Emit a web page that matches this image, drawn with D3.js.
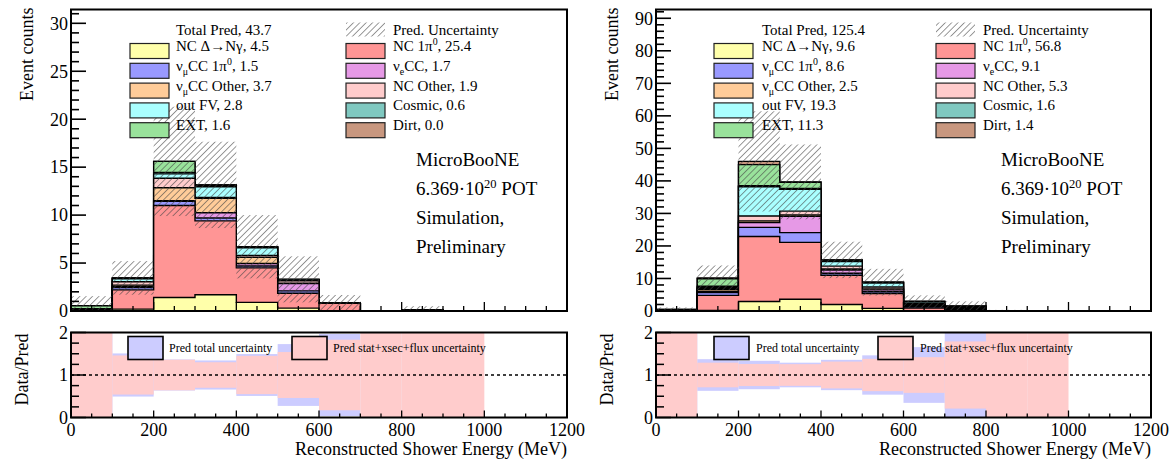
<!DOCTYPE html>
<html>
<head>
<meta charset="utf-8">
<script src="https://cdn.jsdelivr.net/npm/d3@7"></script>
<style>
  body { margin: 0; background: #fff; }
  svg { display: block; }
  svg text { font-family: "Liberation Serif", "Times New Roman", Times, serif; fill: #000; }
</style>
</head>
<body>
<svg id="chart" width="1175" height="460" font-family="Liberation Serif, serif"></svg>
<script>
// ---- binning (MeV) ----
const binEdges = d3.range(0, 1201, 100);

// ---- left sample: predicted events per 100 MeV bin ----
const leftNCDelta   = [0, 0.2, 1.4, 1.7, 0.9, 0.3, 0, 0, 0, 0, 0, 0];
const leftNC1Pi0    = [0.05, 2.0, 9.6, 7.7, 3.6, 1.55, 0.8, 0, 0.1, 0, 0, 0];
const leftNumuCC1Pi0 = [0.05, 0.25, 0.45, 0.3, 0.2, 0.25, 0, 0, 0, 0, 0, 0];
const leftNueCC     = [0, 0.1, 0.05, 0.55, 0.25, 0.75, 0, 0, 0, 0, 0, 0];
const leftNumuOther = [0, 0.15, 1.35, 1.5, 0.65, 0.05, 0, 0, 0, 0, 0, 0];
const leftNCOther   = [0, 0.35, 1.0, 0.1, 0.2, 0.25, 0, 0, 0, 0, 0, 0];
const leftOutFV     = [0.05, 0.3, 0.45, 1.1, 0.8, 0.1, 0, 0, 0, 0, 0, 0];
const leftCosmic    = [0.1, 0.05, 0.15, 0.15, 0.05, 0.05, 0.05, 0, 0, 0, 0, 0];
const leftEXT       = [0.3, 0.05, 1.15, 0.05, 0.05, 0, 0, 0, 0, 0, 0, 0];
const leftDirt      = [0, 0, 0, 0, 0, 0, 0, 0, 0, 0, 0, 0];
const leftTotalErr  = [1.0, 1.75, 5.7, 4.5, 3.3, 2.4, 0.82, 0, 0.4, 0, 0, 0];
// fractional stat+xsec+flux uncertainty (null = no band)
const leftSysFrac   = [1.6, 0.46, 0.36, 0.30, 0.45, 0.54, 0.83, 1.6, 1.6, 1.6, null, null];

// ---- right sample ----
const rightNCDelta   = [0, 0.2, 2.9, 3.6, 2.0, 0.8, 0.1, 0, 0, 0, 0, 0];
const rightNC1Pi0    = [0.1, 4.6, 20.0, 17.5, 9.0, 4.6, 0.8, 0.11, 0.05, 0, 0, 0];
const rightNumuCC1Pi0 = [0, 0.9, 2.8, 3.0, 0.6, 0.5, 0.4, 0.4, 0, 0, 0, 0];
const rightNueCC     = [0, 0.3, 1.5, 5.0, 1.0, 0.6, 0.4, 0.3, 0, 0, 0, 0];
const rightNumuOther = [0, 0.6, 0.5, 0.4, 0.3, 0.3, 0.2, 0.2, 0, 0, 0, 0];
const rightNCOther   = [0, 0.3, 1.5, 1.2, 0.9, 0.6, 0.5, 0.3, 0, 0, 0, 0];
const rightOutFV     = [0.1, 0.4, 9.0, 6.7, 1.4, 1.2, 0.4, 0.06, 0, 0, 0, 0];
const rightCosmic    = [0.1, 0.3, 0.3, 0.3, 0.2, 0.2, 0.1, 0.1, 0, 0, 0, 0];
const rightEXT       = [0.2, 2.3, 6.5, 1.9, 0.3, 0.06, 0, 0, 0, 0, 0, 0];
const rightDirt      = [0, 0.3, 1.0, 0.1, 0, 0, 0, 0, 0, 0, 0, 0];
const rightTotalErr  = [0.6, 3.8, 15.4, 11.5, 5.6, 4.1, 1.9, 1.5, 0.3, 0, 0, 0];
const rightSysFrac   = [1.6, 0.29, 0.26, 0.255, 0.315, 0.38, 0.42, 0.79, 1.6, 1.6, null, null];

// ---- axis ticks ----
const xTickLabels = [0, 200, 400, 600, 800, 1000, 1200];
const ratioTickLabels = [0, 1, 2];

// ---- categories in stacking order (bottom first) ----
const categoryKeys = ["ncDelta", "nc1pi0", "numu1pi0", "nuecc", "numuOther", "ncOther", "outFV", "cosmic", "ext", "dirt"];
const categoryColors = ["#ffffaa", "#ff9595", "#9999ff", "#e699e6", "#ffcc99", "#ffcccc", "#aaffff", "#7fc8c0", "#99e29b", "#c8977f"];
const categoryLabels = [
  [["NC \u0394\u2192N\u03b3"]],
  [["NC 1\u03c0"], ["0", "sup"]],
  [["\u03bd"], ["\u03bc", "sub"], ["CC 1\u03c0"], ["0", "sup"]],
  [["\u03bd"], ["e", "sub"], ["CC"]],
  [["\u03bd"], ["\u03bc", "sub"], ["CC Other"]],
  [["NC Other"]],
  [["out FV"]],
  [["Cosmic"]],
  [["EXT"]],
  [["Dirt"]]
];

const panels = [
  {
    series: [leftNCDelta, leftNC1Pi0, leftNumuCC1Pi0, leftNueCC, leftNumuOther, leftNCOther, leftOutFV, leftCosmic, leftEXT, leftDirt],
    err: leftTotalErr, sys: leftSysFrac,
    x0: 71, x1: 567, yMax: 31.44, yMajor: 5, yMinor: 1,
    leg: { box1: 59, text1: 105, box2: 275, text2: 322 },
    rleg: { b1: 57, t1: 98, b2: 221, t2: 262 },
    labelX: 416
  },
  {
    series: [rightNCDelta, rightNC1Pi0, rightNumuCC1Pi0, rightNueCC, rightNumuOther, rightNCOther, rightOutFV, rightCosmic, rightEXT, rightDirt],
    err: rightTotalErr, sys: rightSysFrac,
    x0: 656, x1: 1151, yMax: 92.7, yMajor: 10, yMinor: 2,
    leg: { box1: 58, text1: 106, box2: 280, text2: 327 },
    rleg: { b1: 58, t1: 100, b2: 222, t2: 264 },
    labelX: 1001
  }
];

const TOP_Y0 = 311, TOP_Y1 = 9.5;
const RAT_Y0 = 417.5, RAT_Y1 = 332.5;

const svg = d3.select("#chart");
const defs = svg.append("defs");
defs.append("pattern")
  .attr("id", "hatch")
  .attr("patternUnits", "userSpaceOnUse")
  .attr("width", 4.5).attr("height", 4.5)
  .attr("patternTransform", "rotate(45)")
  .append("line")
  .attr("x1", 0).attr("y1", 0).attr("x2", 0).attr("y2", 4.5)
  .attr("stroke", "#444").attr("stroke-width", 1.1);

function richText(sel, parts, size) {
  let shift = 0;
  parts.forEach(([t, mode]) => {
    const target = mode === "sub" ? size * 0.28 : mode === "sup" ? -size * 0.38 : 0;
    sel.append("tspan")
      .attr("dy", target - shift)
      .attr("font-size", mode ? size * 0.66 : size)
      .text(t);
    shift = target;
  });
  if (shift !== 0) sel.append("tspan").attr("dy", -shift).text("");
}

panels.forEach((p, pi) => {
  const x = d3.scaleLinear().domain([0, 1200]).range([p.x0, p.x1]);
  const y = d3.scaleLinear().domain([0, p.yMax]).range([TOP_Y0, TOP_Y1]);
  const yr = d3.scaleLinear().domain([0, 2]).range([RAT_Y0, RAT_Y1]);
  const nb = binEdges.length - 1;

  // clip paths
  defs.append("clipPath").attr("id", "clipTop" + pi)
    .append("rect").attr("x", p.x0).attr("y", TOP_Y1).attr("width", p.x1 - p.x0).attr("height", TOP_Y0 - TOP_Y1);
  defs.append("clipPath").attr("id", "clipRat" + pi)
    .append("rect").attr("x", p.x0).attr("y", RAT_Y1).attr("width", p.x1 - p.x0).attr("height", RAT_Y0 - RAT_Y1);

  // cumulative stacks
  const cum = [];
  let run = new Array(nb).fill(0);
  p.series.forEach(s => {
    run = run.map((v, i) => v + s[i]);
    cum.push(run.slice());
  });
  const total = cum[cum.length - 1];

  const top = svg.append("g").attr("clip-path", `url(#clipTop${pi})`);
  const stepLine = d3.line().x(d => d[0]).y(d => d[1]);
  function stepPoints(values) {
    const pts = [[x(binEdges[0]), y(0)]];
    values.forEach((v, i) => {
      pts.push([x(binEdges[i]), y(v)]);
      pts.push([x(binEdges[i + 1]), y(v)]);
    });
    pts.push([x(binEdges[nb]), y(0)]);
    return pts;
  }
  // draw from the top of the stack downwards, each layer filled down to zero
  for (let k = cum.length - 1; k >= 0; k--) {
    top.append("path")
      .attr("d", stepLine(stepPoints(cum[k])) + "Z")
      .attr("fill", categoryColors[k])
      .attr("stroke", "#000")
      .attr("stroke-width", 1.4)
      .attr("stroke-linejoin", "miter");
  }

  // prediction uncertainty band
  top.selectAll(".unc").data(d3.range(nb).filter(i => p.err[i] > 0)).enter()
    .append("rect")
    .attr("x", i => x(binEdges[i]))
    .attr("width", i => x(binEdges[i + 1]) - x(binEdges[i]))
    .attr("y", i => y(total[i] + p.err[i]))
    .attr("height", i => y(Math.max(0, total[i] - p.err[i])) - y(total[i] + p.err[i]))
    .attr("fill", "url(#hatch)");

  // ---- top frame and axes ----
  const ax = svg.append("g");
  d3.range(0, p.yMax + 1e-9, p.yMinor).forEach(v => {
    const major = Math.abs(v / p.yMajor - Math.round(v / p.yMajor)) < 1e-6;
    ax.append("line").attr("x1", p.x0).attr("x2", p.x0 + (major ? 15 : 8))
      .attr("y1", y(v)).attr("y2", y(v)).attr("stroke", "#000").attr("stroke-width", 1.6);
    if (major) {
      ax.append("text").attr("x", p.x0 - 3).attr("y", y(v)).attr("dy", "0.35em")
        .attr("text-anchor", "end").attr("font-size", 18).text(v);
    }
  });
  d3.range(0, 1201, 50).forEach(v => {
    const major = v % 200 === 0;
    ax.append("line").attr("x1", x(v)).attr("x2", x(v))
      .attr("y1", TOP_Y0).attr("y2", TOP_Y0 - (major ? 9 : 5)).attr("stroke", "#000").attr("stroke-width", 1.3);
  });
  ax.append("rect").attr("x", p.x0).attr("y", TOP_Y1).attr("width", p.x1 - p.x0).attr("height", TOP_Y0 - TOP_Y1)
    .attr("fill", "none").attr("stroke", "#000").attr("stroke-width", 2);

  ax.append("text")
    .attr("transform", `translate(${p.x0 - 38},${TOP_Y1 - 2}) rotate(-90)`)
    .attr("text-anchor", "end").attr("font-size", 18).text("Event counts");

  // ---- legend ----
  const lg = svg.append("g");
  const rowY = i => 51 + 19.8 * i;
  const totalSum = d3.sum(total);
  lg.append("text").attr("x", p.x0 + p.leg.text1).attr("y", 29.5).attr("dy", "0.35em")
    .attr("font-size", 15).text("Total Pred, " + totalSum.toFixed(1));
  lg.append("rect").attr("x", p.x0 + p.leg.box2).attr("y", 22.5).attr("width", 39).attr("height", 14)
    .attr("fill", "url(#hatch)");
  lg.append("text").attr("x", p.x0 + p.leg.text2).attr("y", 29.5).attr("dy", "0.35em")
    .attr("font-size", 15).text("Pred. Uncertainty");
  categoryKeys.forEach((key, k) => {
    const col = k % 2, row = Math.floor(k / 2);
    const bx = p.x0 + (col === 0 ? p.leg.box1 : p.leg.box2);
    const tx = p.x0 + (col === 0 ? p.leg.text1 : p.leg.text2);
    lg.append("rect").attr("x", bx).attr("y", rowY(row) - 7.5).attr("width", 39).attr("height", 15)
      .attr("fill", categoryColors[k]).attr("stroke", "#222").attr("stroke-width", 1.2);
    const t = lg.append("text").attr("x", tx).attr("y", rowY(row)).attr("dy", "0.35em");
    richText(t, categoryLabels[k].concat([[", " + d3.sum(p.series[k]).toFixed(1)]]), 15);
  });

  // ---- experiment label ----
  const lab = svg.append("g");
  lab.append("text").attr("x", p.labelX).attr("y", 166).attr("font-size", 19).text("MicroBooNE");
  const pot = lab.append("text").attr("x", p.labelX).attr("y", 195);
  richText(pot, [["6.369\u00b710"], ["20", "sup"], [" POT"]], 19);
  lab.append("text").attr("x", p.labelX).attr("y", 224).attr("font-size", 19).text("Simulation,");
  lab.append("text").attr("x", p.labelX).attr("y", 253).attr("font-size", 19).text("Preliminary");

  // ---- ratio panel ----
  const rat = svg.append("g").attr("clip-path", `url(#clipRat${pi})`);
  rat.selectAll(".tot").data(d3.range(nb).filter(i => total[i] > 0 && p.err[i] > 0)).enter()
    .append("rect")
    .attr("x", i => x(binEdges[i]))
    .attr("width", i => x(binEdges[i + 1]) - x(binEdges[i]))
    .attr("y", i => yr(Math.min(2.2, 1 + p.err[i] / total[i])))
    .attr("height", i => yr(Math.max(-0.2, 1 - p.err[i] / total[i])) - yr(Math.min(2.2, 1 + p.err[i] / total[i])))
    .attr("fill", "#ccccff");
  rat.selectAll(".sys").data(d3.range(nb).filter(i => p.sys[i] !== null)).enter()
    .append("rect")
    .attr("x", i => x(binEdges[i]))
    .attr("width", i => x(binEdges[i + 1]) - x(binEdges[i]))
    .attr("y", i => yr(Math.min(2.2, 1 + p.sys[i])))
    .attr("height", i => yr(Math.max(-0.2, 1 - p.sys[i])) - yr(Math.min(2.2, 1 + p.sys[i])))
    .attr("fill", "#ffcccc");
  rat.append("line").attr("x1", x(0)).attr("x2", x(1200)).attr("y1", yr(1)).attr("y2", yr(1))
    .attr("stroke", "#000").attr("stroke-width", 1.4).attr("stroke-dasharray", "3,3");

  const rax = svg.append("g");
  d3.range(0, 2.0001, 0.25).forEach(v => {
    const major = Math.abs(v - Math.round(v)) < 1e-6;
    rax.append("line").attr("x1", p.x0).attr("x2", p.x0 + (major ? 15 : 8))
      .attr("y1", yr(v)).attr("y2", yr(v)).attr("stroke", "#000").attr("stroke-width", 1.5);
  });
  ratioTickLabels.forEach(v => {
    rax.append("text").attr("x", p.x0 - 3).attr("y", yr(v)).attr("dy", "0.35em")
      .attr("text-anchor", "end").attr("font-size", 18).text(v);
  });
  d3.range(0, 1201, 50).forEach(v => {
    const major = v % 200 === 0;
    rax.append("line").attr("x1", x(v)).attr("x2", x(v))
      .attr("y1", RAT_Y0).attr("y2", RAT_Y0 - (major ? 7 : 4)).attr("stroke", "#000").attr("stroke-width", 1.3);
  });
  xTickLabels.forEach(v => {
    rax.append("text").attr("x", x(v)).attr("y", 436).attr("text-anchor", "middle")
      .attr("font-size", 18).text(v);
  });
  rax.append("rect").attr("x", p.x0).attr("y", RAT_Y1).attr("width", p.x1 - p.x0).attr("height", RAT_Y0 - RAT_Y1)
    .attr("fill", "none").attr("stroke", "#000").attr("stroke-width", 2);
  rax.append("text").attr("x", p.x1).attr("y", 455).attr("text-anchor", "end")
    .attr("font-size", 18).text("Reconstructed Shower Energy (MeV)");
  rax.append("text")
    .attr("transform", `translate(${p.x0 - 43},${RAT_Y1 + 1}) rotate(-90)`)
    .attr("text-anchor", "end").attr("font-size", 18).text("Data/Pred");

  // ratio legend
  const rl = svg.append("g");
  rl.append("rect").attr("x", p.x0 + p.rleg.b1).attr("y", 336.5).attr("width", 35).attr("height", 23)
    .attr("fill", "#ccccff").attr("stroke", "#000").attr("stroke-width", 1.6);
  rl.append("text").attr("x", p.x0 + p.rleg.t1).attr("y", 348).attr("dy", "0.35em")
    .attr("font-size", 12).text("Pred total uncertainty");
  rl.append("rect").attr("x", p.x0 + p.rleg.b2).attr("y", 336.5).attr("width", 35).attr("height", 23)
    .attr("fill", "#ffcccc").attr("stroke", "#000").attr("stroke-width", 1.6);
  rl.append("text").attr("x", p.x0 + p.rleg.t2).attr("y", 348).attr("dy", "0.35em")
    .attr("font-size", 12).text("Pred stat+xsec+flux uncertainty");
});
</script>
</body>
</html>
